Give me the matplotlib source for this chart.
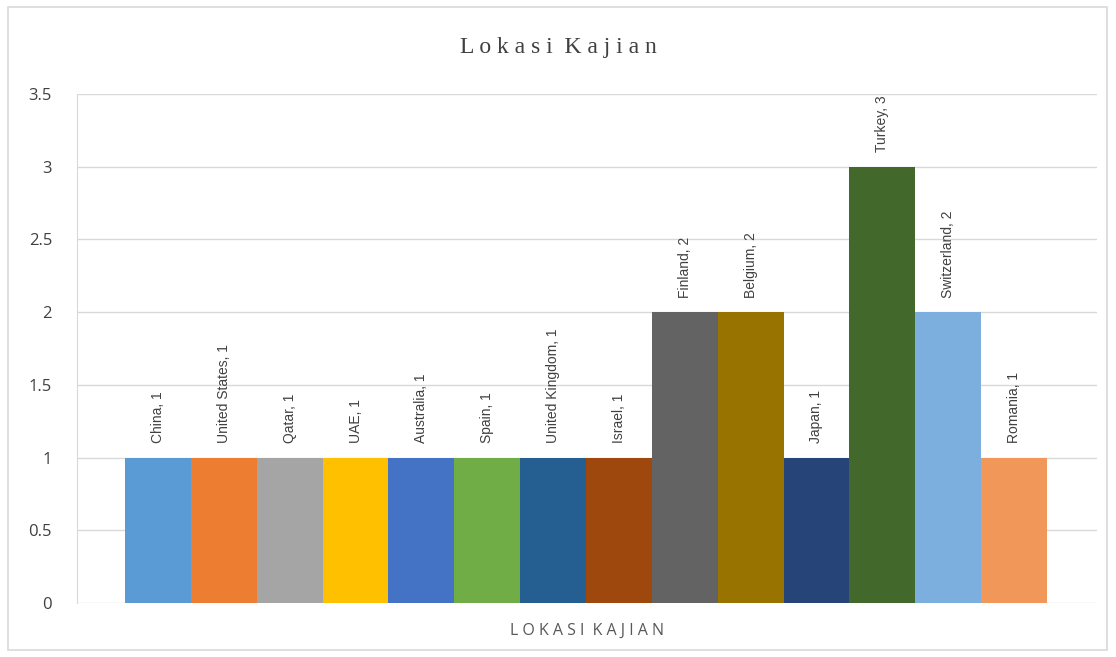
import matplotlib.pyplot as plt
from matplotlib.patches import Rectangle

countries = ['China', 'United States', 'Qatar', 'UAE', 'Australia', 'Spain',
             'United Kingdom', 'Israel', 'Finland', 'Belgium', 'Japan',
             'Turkey', 'Switzerland', 'Romania']
counts = [1, 1, 1, 1, 1, 1, 1, 1, 2, 2, 1, 3, 2, 1]
colors = ['#5B9BD5', '#ED7D31', '#A5A5A5', '#FFC000', '#4472C4', '#70AD47',
          '#255E91', '#9E480E', '#636363', '#997300', '#264478', '#43682B',
          '#7CAFDD', '#F1975A']
yticks = [0, 0.5, 1, 1.5, 2, 2.5, 3, 3.5]

fig = plt.figure(figsize=(11.16, 6.57), dpi=100)
# plot area in pixels: x 77..1097, y 94..603
ax = fig.add_axes([77 / 1116, 1 - 603 / 657, 1020 / 1116, 509 / 657])

# outer chart border
fig.patches.append(Rectangle((8 / 1116, 7 / 657), 1099 / 1116, 643 / 657,
                             transform=fig.transFigure, fill=False,
                             edgecolor='#D9D9D9', linewidth=1.2))

x = list(range(len(countries)))
ax.bar(x, counts, width=1.0, color=colors, zorder=2)

for xi, name, v in zip(x, countries, counts):
    ax.text(xi, v + 0.1, f'{name}, {v}', rotation=90, ha='center', va='bottom',
            fontsize=10, color='#404040', family='Liberation Sans')

ax.set_xlim(-0.5 - 0.73, 13.5 + 0.76)
ax.set_ylim(0, 3.5)
ax.set_yticks(yticks)
ax.set_yticklabels(['0', '0.5', '1', '1.5', '2', '2.5', '3', '3.5'],
                   fontsize=12, color='#404040', family='Open Sans')
ax.tick_params(axis='y', length=0, pad=18)
ax.set_xticks([])
ax.grid(axis='y', color='#D9D9D9', linewidth=1, zorder=0)
for s in ['top', 'right', 'bottom']:
    ax.spines[s].set_visible(False)
ax.spines['left'].set_color('#D9D9D9')

ax.set_xlabel('L O K A S I  K A J I A N', fontsize=11.5, color='#595959',
              family='Open Sans', labelpad=14)
fig.text(0.5, 1 - 47 / 657, 'L o k a s i  K a j i a n', ha='center',
         va='center', fontsize=17, color='#404040', family='Liberation Serif')

fig.savefig('out.png', dpi=100)
